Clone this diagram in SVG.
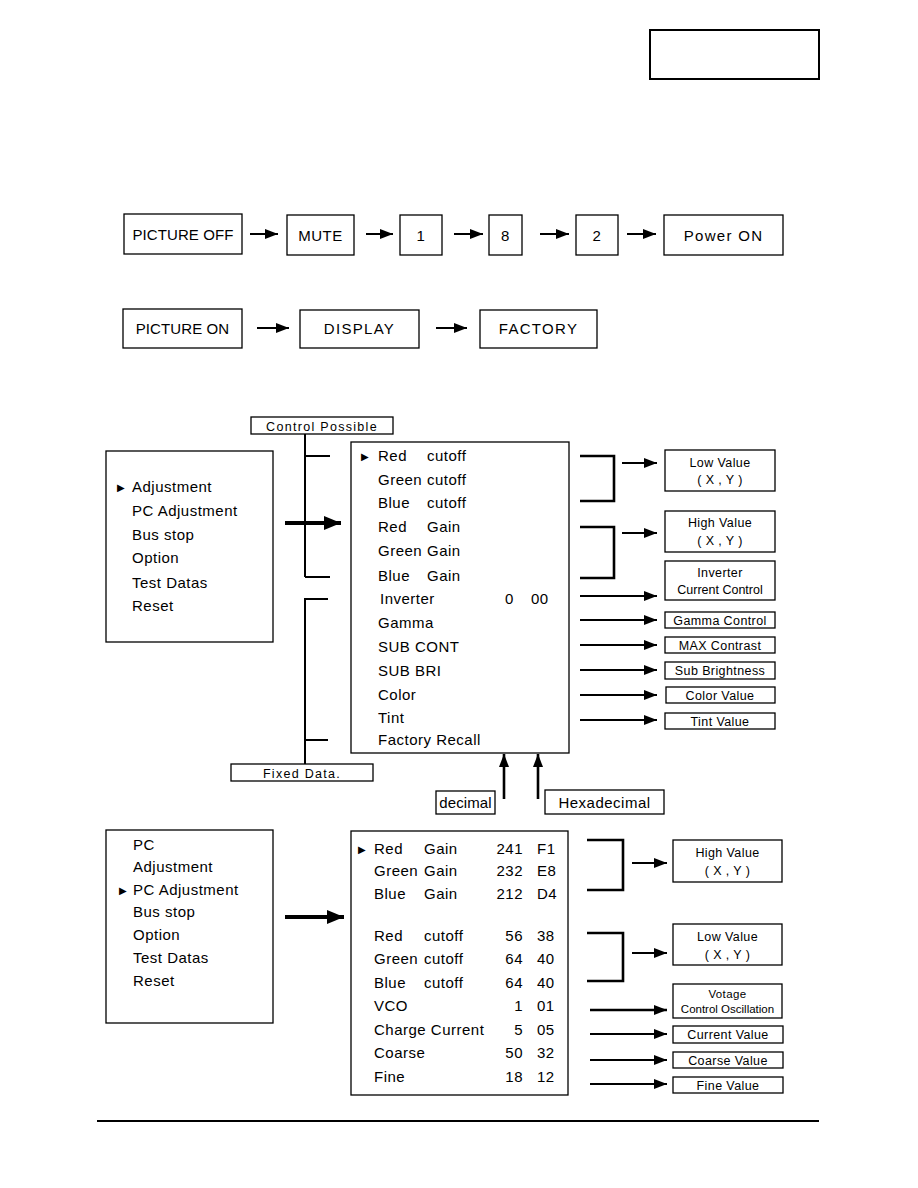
<svg xmlns="http://www.w3.org/2000/svg" width="918" height="1188" viewBox="0 0 918 1188">
<defs>
<style>
text{font-family:"Liberation Sans",Arial,sans-serif;fill:#000}
.t{font-size:15px;letter-spacing:0.5px}
.s{font-size:12.5px;letter-spacing:0.4px}
.w{letter-spacing:1.3px}
.n{letter-spacing:0.1px}
.c{text-anchor:middle}
.r{text-anchor:end}
.b{font-size:10px;font-family:"DejaVu Sans",sans-serif}
.box{fill:#fff;stroke:#000;stroke-width:1.3}
.ln{fill:none;stroke:#000;stroke-width:2}
.br{fill:none;stroke:#000;stroke-width:2.6}
.ar{fill:none;stroke:#000;stroke-width:2;marker-end:url(#ah)}
.arb{fill:none;stroke:#000;stroke-width:4;marker-end:url(#ahb)}
</style>
<marker id="ah" markerUnits="userSpaceOnUse" viewBox="0 0 13 10" refX="13" refY="5" markerWidth="13" markerHeight="10" orient="auto"><path d="M0,0 L13,5 L0,10 z" fill="#000"/></marker>
<marker id="ahb" markerUnits="userSpaceOnUse" viewBox="0 0 17 14" refX="17" refY="7" markerWidth="17" markerHeight="14" orient="auto"><path d="M0,0 L17,7 L0,14 z" fill="#000"/></marker>
</defs>
<rect width="918" height="1188" fill="#fff"/>

<g id="page-frame">
<rect x="650" y="30" width="169" height="49" fill="none" stroke="#000" stroke-width="2"/>
<line x1="97" y1="1121" x2="819" y2="1121" stroke="#000" stroke-width="2.2"/>
</g>

<g id="connectors">
<line class="ar" x1="250" y1="234" x2="278" y2="234"/>
<line class="ar" x1="366" y1="234" x2="393" y2="234"/>
<line class="ar" x1="454" y1="234" x2="483" y2="234"/>
<line class="ar" x1="540" y1="234" x2="569" y2="234"/>
<line class="ar" x1="627" y1="234" x2="656" y2="234"/>
<line class="ar" x1="257" y1="328" x2="289" y2="328"/>
<line class="ar" x1="436" y1="328" x2="467" y2="328"/>
<line class="ln" x1="330" y1="456" x2="305" y2="456"/>
<line class="ln" x1="305" y1="434" x2="305" y2="577"/>
<line class="ln" x1="305" y1="577" x2="330" y2="577"/>
<polyline class="ln" points="328,599 305,599 305,764"/>
<line class="ln" x1="305" y1="740" x2="328" y2="740"/>
<line class="arb" x1="285" y1="523" x2="341" y2="523"/>
<line class="arb" x1="285" y1="917" x2="344" y2="917"/>
<polyline class="br" points="580,456 614,456 614,501 580,501"/>
<line class="ar" x1="622" y1="463" x2="657" y2="463"/>
<polyline class="br" points="580,527 614,527 614,578 580,578"/>
<line class="ar" x1="622" y1="533" x2="657" y2="533"/>
<line class="ar" x1="580" y1="596" x2="657" y2="596"/>
<line class="ar" x1="580" y1="620" x2="657" y2="620"/>
<line class="ar" x1="580" y1="645" x2="657" y2="645"/>
<line class="ar" x1="580" y1="670" x2="657" y2="670"/>
<line class="ar" x1="580" y1="695" x2="657" y2="695"/>
<line class="ar" x1="580" y1="720" x2="657" y2="720"/>
<line class="ar" x1="504" y1="799" x2="504" y2="754" style="stroke-width:2.6"/>
<line class="ar" x1="538" y1="799" x2="538" y2="754" style="stroke-width:2.6"/>
<polyline class="br" points="587,840 623,840 623,890 587,890"/>
<line class="ar" x1="632" y1="863" x2="667" y2="863"/>
<polyline class="br" points="587,933 623,933 623,981 587,981"/>
<line class="ar" x1="632" y1="953" x2="667" y2="953"/>
<line class="ar" x1="590" y1="1010" x2="667" y2="1010" style="stroke-width:2.6"/>
<line class="ar" x1="590" y1="1034" x2="667" y2="1034"/>
<line class="ar" x1="590" y1="1060" x2="667" y2="1060"/>
<line class="ar" x1="590" y1="1084" x2="667" y2="1084"/>
</g>

<g id="n-picture-off"><rect class="box" x="124" y="214" width="118" height="40"/><text class="t c n" x="183" y="240">PICTURE OFF</text></g>
<g id="n-mute"><rect class="box" x="287" y="215" width="67" height="40"/><text class="t c" x="320.5" y="241">MUTE</text></g>
<g id="n-1"><rect class="box" x="400" y="215" width="42" height="40"/><text class="t c" x="421" y="241">1</text></g>
<g id="n-8"><rect class="box" x="489" y="215" width="33" height="40"/><text class="t c" x="505.5" y="241">8</text></g>
<g id="n-2"><rect class="box" x="576" y="215" width="42" height="40"/><text class="t c" x="597" y="241">2</text></g>
<g id="n-power-on"><rect class="box" x="664" y="215" width="119" height="40"/><text class="t c w" x="723.5" y="241">Power ON</text></g>

<g id="n-picture-on"><rect class="box" x="123" y="309" width="119" height="39"/><text class="t c n" x="182.5" y="334">PICTURE ON</text></g>
<g id="n-display"><rect class="box" x="300" y="310" width="119" height="38"/><text class="t c w" x="359.5" y="334">DISPLAY</text></g>
<g id="n-factory"><rect class="box" x="480" y="310" width="117" height="38"/><text class="t c w" x="538.5" y="334">FACTORY</text></g>

<g id="n-control-possible"><rect class="box" x="251" y="417" width="142" height="17"/><text class="s c w" x="322" y="430.5">Control Possible</text></g>
<g id="n-fixed-data"><rect class="box" x="231" y="764" width="142" height="17"/><text class="s c w" x="302" y="777.5">Fixed Data.</text></g>

<g id="n-main-menu">
<rect class="box" x="106" y="451" width="167" height="191"/>
<text class="b" x="117" y="491">▶</text>
<text class="t" x="132" y="492">Adjustment</text>
<text class="t" x="132" y="516">PC Adjustment</text>
<text class="t" x="132" y="540">Bus stop</text>
<text class="t" x="132" y="563">Option</text>
<text class="t" x="132" y="588">Test Datas</text>
<text class="t" x="132" y="611">Reset</text>
</g>

<g id="n-adjust-menu">
<rect class="box" x="351" y="442" width="218" height="311"/>
<text class="b" x="361" y="460">▶</text>
<text class="t" x="378" y="461">Red</text><text class="t" x="427" y="461">cutoff</text>
<text class="t" x="378" y="485">Green</text><text class="t" x="427" y="485">cutoff</text>
<text class="t" x="378" y="508">Blue</text><text class="t" x="427" y="508">cutoff</text>
<text class="t" x="378" y="532">Red</text><text class="t" x="427" y="532">Gain</text>
<text class="t" x="378" y="556">Green</text><text class="t" x="427" y="556">Gain</text>
<text class="t" x="378" y="581">Blue</text><text class="t" x="427" y="581">Gain</text>
<text class="t" x="380" y="604">Inverter</text><text class="t" x="505" y="604">0</text><text class="t" x="531" y="604">00</text>
<text class="t" x="378" y="628">Gamma</text>
<text class="t" x="378" y="652">SUB CONT</text>
<text class="t" x="378" y="676">SUB BRI</text>
<text class="t" x="378" y="700">Color</text>
<text class="t" x="378" y="723">Tint</text>
<text class="t" x="378" y="745">Factory Recall</text>
</g>

<g id="n-low-value-1"><rect class="box" x="665" y="450" width="110" height="41"/><text class="s c" x="720" y="467">Low Value</text><text class="s c" x="720" y="484">( X , Y )</text></g>
<g id="n-high-value-1"><rect class="box" x="665" y="511" width="110" height="41"/><text class="s c" x="720" y="527">High Value</text><text class="s c" x="720" y="545">( X , Y )</text></g>
<g id="n-inverter-cc"><rect class="box" x="665" y="561" width="110" height="39"/><text class="s c" x="720" y="577">Inverter</text><text class="s c" x="720" y="594" style="letter-spacing:0px">Current Control</text></g>
<g id="n-gamma-control"><rect class="box" x="665" y="612" width="110" height="16"/><text class="s c" x="720" y="624.5">Gamma Control</text></g>
<g id="n-max-contrast"><rect class="box" x="665" y="637" width="110" height="16"/><text class="s c" x="720" y="649.5">MAX Contrast</text></g>
<g id="n-sub-brightness"><rect class="box" x="665" y="662" width="110" height="17"/><text class="s c" x="720" y="675">Sub Brightness</text></g>
<g id="n-color-value"><rect class="box" x="666" y="687" width="109" height="16"/><text class="s c" x="720" y="699.5">Color Value</text></g>
<g id="n-tint-value"><rect class="box" x="665" y="713" width="110" height="16"/><text class="s c" x="720" y="725.5">Tint Value</text></g>

<g id="n-decimal"><rect class="box" x="436" y="791" width="59" height="23"/><text class="t c n" x="465.5" y="808">decimal</text></g>
<g id="n-hexadecimal"><rect class="box" x="545" y="790" width="119" height="24"/><text class="t c" x="604.5" y="808">Hexadecimal</text></g>

<g id="n-pc-menu">
<rect class="box" x="106" y="830" width="167" height="193"/>
<text class="t" x="133" y="850">PC</text>
<text class="t" x="133" y="872">Adjustment</text>
<text class="b" x="119" y="894">▶</text>
<text class="t" x="133" y="895">PC Adjustment</text>
<text class="t" x="133" y="917">Bus stop</text>
<text class="t" x="133" y="940">Option</text>
<text class="t" x="133" y="963">Test Datas</text>
<text class="t" x="133" y="986">Reset</text>
</g>

<g id="n-pc-adjust-menu">
<rect class="box" x="351" y="831" width="217" height="264"/>
<text class="b" x="358" y="853">▶</text>
<text class="t" x="374" y="854">Red</text><text class="t" x="424" y="854">Gain</text><text class="t r" x="523" y="854">241</text><text class="t" x="537" y="854">F1</text>
<text class="t" x="374" y="876">Green</text><text class="t" x="424" y="876">Gain</text><text class="t r" x="523" y="876">232</text><text class="t" x="537" y="876">E8</text>
<text class="t" x="374" y="899">Blue</text><text class="t" x="424" y="899">Gain</text><text class="t r" x="523" y="899">212</text><text class="t" x="537" y="899">D4</text>
<text class="t" x="374" y="941">Red</text><text class="t" x="424" y="941">cutoff</text><text class="t r" x="523" y="941">56</text><text class="t" x="537" y="941">38</text>
<text class="t" x="374" y="964">Green</text><text class="t" x="424" y="964">cutoff</text><text class="t r" x="523" y="964">64</text><text class="t" x="537" y="964">40</text>
<text class="t" x="374" y="988">Blue</text><text class="t" x="424" y="988">cutoff</text><text class="t r" x="523" y="988">64</text><text class="t" x="537" y="988">40</text>
<text class="t" x="374" y="1011">VCO</text><text class="t r" x="523" y="1011">1</text><text class="t" x="537" y="1011">01</text>
<text class="t" x="374" y="1035">Charge Current</text><text class="t r" x="523" y="1035">5</text><text class="t" x="537" y="1035">05</text>
<text class="t" x="374" y="1058">Coarse</text><text class="t r" x="523" y="1058">50</text><text class="t" x="537" y="1058">32</text>
<text class="t" x="374" y="1082">Fine</text><text class="t r" x="523" y="1082">18</text><text class="t" x="537" y="1082">12</text>
</g>

<g id="n-high-value-2"><rect class="box" x="673" y="840" width="109" height="42"/><text class="s c" x="727.5" y="857">High Value</text><text class="s c" x="727.5" y="875">( X , Y )</text></g>
<g id="n-low-value-2"><rect class="box" x="673" y="924" width="109" height="41"/><text class="s c" x="727.5" y="941">Low Value</text><text class="s c" x="727.5" y="959">( X , Y )</text></g>
<g id="n-vco"><rect class="box" x="673" y="984" width="109" height="34"/><text class="s c" x="727.5" y="998" style="font-size:11.5px">Votage</text><text class="s c" x="727.5" y="1013" style="font-size:11.5px;letter-spacing:0px">Control Oscillation</text></g>
<g id="n-current-value"><rect class="box" x="673" y="1026" width="110" height="17"/><text class="s c" x="728" y="1039">Current Value</text></g>
<g id="n-coarse-value"><rect class="box" x="673" y="1052" width="110" height="16"/><text class="s c" x="728" y="1064.5">Coarse Value</text></g>
<g id="n-fine-value"><rect class="box" x="673" y="1077" width="110" height="16"/><text class="s c" x="728" y="1089.5">Fine Value</text></g>
</svg>
